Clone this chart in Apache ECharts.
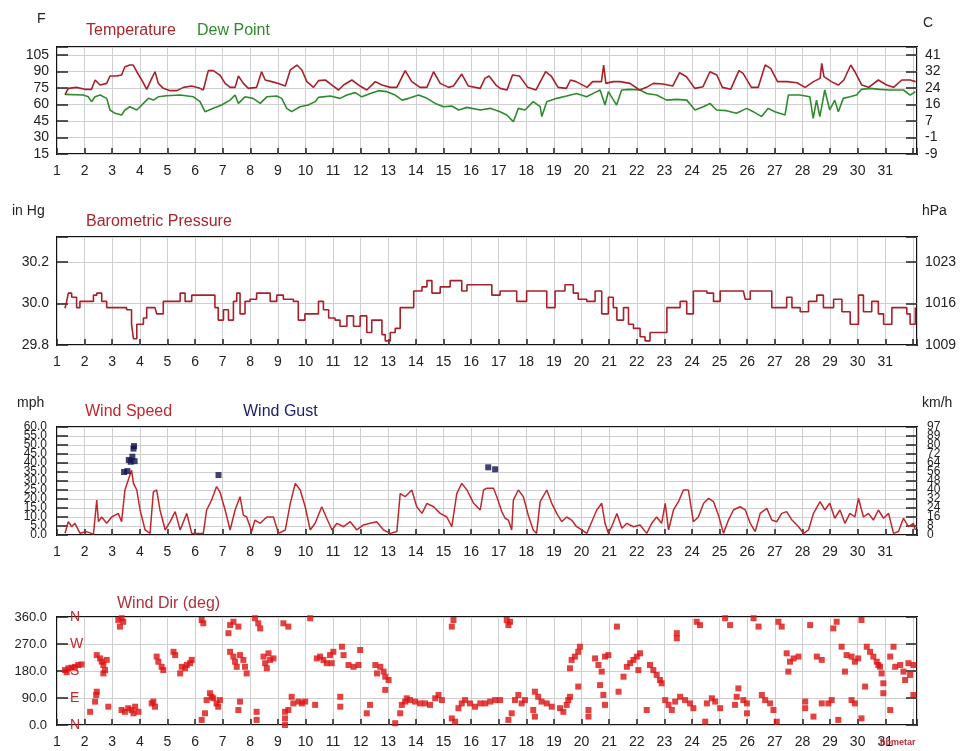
<!DOCTYPE html>
<html>
<head>
<meta charset="utf-8">
<script src="https://cdn.jsdelivr.net/npm/echarts@6/dist/echarts.min.js"></script>
<style>html,body{margin:0;padding:0;background:#fff;}#c{width:962px;height:751px;}</style>
</head>
<body>
<div id="c"></div>
<script>
// ---------- DATA (day-of-month, value) ----------
const dayLabels = [1,2,3,4,5,6,7,8,9,10,11,12,13,14,15,16,17,18,19,20,21,22,23,24,25,26,27,28,29,30,31];

const temperature = [
[1.29,69],[1.41,74.7],[1.71,75.6],[2.01,73.8],[2.25,73.8],[2.38,82.3],[2.56,77.7],[2.8,79.2],[2.92,85.9],[3.16,85.9],[3.34,86.8],[3.46,94.4],[3.64,95.9],[3.76,95.9],[3.89,89.8],[4.07,82.3],[4.25,73.8],[4.43,83.8],[4.55,89.8],[4.67,79.2],[4.85,74.7],[5.1,72.6],[5.34,72.6],[5.58,75.6],[5.88,76.8],[6.18,74.7],[6.3,73.2],[6.48,90.8],[6.66,90.8],[6.9,86.8],[7.09,79.2],[7.27,75.6],[7.45,75.6],[7.57,85.9],[7.75,79.2],[7.93,74.7],[8.23,75.6],[8.41,89.8],[8.54,82.3],[8.78,80.8],[9.02,79.2],[9.27,76.8],[9.45,91.4],[9.69,95.9],[9.87,91.4],[10.05,80.8],[10.29,75.6],[10.47,81.7],[10.72,82.3],[10.96,77.7],[11.2,73.2],[11.38,77.7],[11.68,82.3],[11.98,76.8],[12.22,73.2],[12.53,80.8],[12.77,77.7],[13.07,75.6],[13.31,75.6],[13.61,90.8],[13.85,80.8],[14.15,75.6],[14.4,75.6],[14.64,89.8],[14.88,79.2],[15.18,75.6],[15.36,76.8],[15.66,87.7],[15.9,76.8],[16.33,74.7],[16.5,83.8],[16.65,85.9],[16.9,77.7],[17.05,74.7],[17.3,73.2],[17.5,86.8],[17.75,85.9],[18.05,75.6],[18.35,73.2],[18.7,89.8],[18.9,85.9],[19.15,75.6],[19.45,74.7],[19.6,82.3],[19.8,80.8],[20.2,75.6],[20.4,80.8],[20.72,80.8],[20.8,95.9],[20.88,79.2],[21.15,80.8],[21.4,80.8],[21.75,79.2],[22.1,73.2],[22.35,75.6],[22.6,79.2],[22.95,78.6],[23.3,76.8],[23.55,88.9],[23.8,85.3],[24.1,74.7],[24.4,76.2],[24.65,89.8],[24.9,86.8],[25.1,75.6],[25.4,73.8],[25.7,90.8],[25.85,88.3],[26.15,75.6],[26.4,75.6],[26.65,95.9],[26.85,92.9],[27.1,80.8],[27.45,80.8],[27.8,79.8],[28.1,75.6],[28.4,80.8],[28.64,83.8],[28.7,97.4],[28.78,85.3],[29.05,80.8],[29.3,77.7],[29.5,82.3],[29.75,95.9],[29.9,89.8],[30.15,77.7],[30.4,75.6],[30.75,82.3],[31.05,77.7],[31.3,75.6],[31.6,82.3],[31.9,82.3],[32.1,80.8]
];

const dewPoint = [
[1.29,69.2],[1.95,68.6],[2.13,67],[2.25,62.6],[2.38,67],[2.56,68.6],[2.8,65.6],[2.92,55],[3.1,52],[3.34,50.5],[3.46,55],[3.64,58],[3.89,55],[4.13,61],[4.31,65.6],[4.49,64],[4.67,67],[4.97,68],[5.46,68.6],[5.94,67],[6.18,62.6],[6.36,53.5],[6.66,56.5],[6.96,59.5],[7.27,64],[7.45,68.6],[7.57,61],[7.81,67],[8.1,65.6],[8.36,61],[8.6,67],[8.96,67.7],[9.14,65.6],[9.32,56.5],[9.5,53.5],[9.8,58],[10.1,59.5],[10.35,62.6],[10.47,66.5],[10.9,67.7],[11.25,65.6],[11.5,68.6],[11.8,70.8],[12.04,67],[12.35,70],[12.65,72.6],[12.95,71.7],[13.25,68.6],[13.5,64],[13.74,65.6],[14.1,68.6],[14.4,65.6],[14.7,61],[15.0,58],[15.3,58.6],[15.55,55],[15.85,57.4],[16.33,55],[16.69,56.5],[17.05,53.5],[17.29,50.5],[17.53,44.4],[17.71,56.5],[17.95,55],[18.25,62.6],[18.5,58],[18.56,49],[18.74,62.6],[19.1,65.6],[19.46,67.7],[19.82,70],[20.18,67],[20.48,70.8],[20.67,73.2],[20.85,59.5],[20.97,71.7],[21.27,59.5],[21.45,73.2],[21.75,73.8],[22.12,73.2],[22.36,70],[22.72,68.6],[23.08,64],[23.45,64.7],[23.81,64],[24.11,55],[24.41,58],[24.65,61],[24.89,55],[25.25,54.4],[25.61,52],[25.98,56.5],[26.22,53.5],[26.52,49],[26.76,56.5],[27.0,53.5],[27.37,50.5],[27.49,68.6],[27.9,68.6],[28.27,67],[28.39,47.4],[28.51,64],[28.63,49],[28.81,73.2],[28.99,55],[29.17,64],[29.3,53.5],[29.48,65.6],[29.72,67],[29.96,68.6],[30.14,73.8],[30.44,74.7],[30.8,73.8],[31.17,73.2],[31.66,73.2],[31.9,68.6],[32.09,71.7]
];

const pressure = [
[1.29,29.977],[1.35,30.01],[1.41,30.05],[1.53,30.03],[1.71,29.98],[1.83,30.01],[2.13,30.01],[2.32,30.04],[2.44,30.05],[2.62,30.01],[2.8,29.98],[3.16,29.98],[3.52,29.97],[3.7,29.90],[3.77,29.83],[3.89,29.90],[4.13,29.93],[4.25,29.98],[4.55,29.98],[4.61,29.95],[4.85,30.01],[5.22,30.01],[5.46,30.05],[5.64,30.01],[5.88,30.04],[6.54,30.04],[6.72,29.98],[6.84,29.92],[7.03,29.97],[7.21,29.92],[7.39,30.01],[7.51,30.05],[7.63,29.95],[7.81,30.01],[7.99,30.02],[8.23,30.05],[8.6,30.05],[8.72,30.01],[8.96,30.04],[9.2,30.02],[9.56,30.01],[9.74,29.92],[9.98,29.95],[10.35,29.95],[10.47,30.01],[10.65,29.97],[10.84,29.93],[11.07,29.92],[11.25,29.89],[11.5,29.94],[11.74,29.89],[11.98,29.94],[12.22,29.86],[12.4,29.92],[12.58,29.92],[12.77,29.85],[12.89,29.82],[13.07,29.86],[13.25,29.88],[13.43,29.98],[13.67,29.98],[13.92,30.06],[14.22,30.08],[14.4,30.11],[14.58,30.05],[14.88,30.08],[15.24,30.11],[15.48,30.11],[15.66,30.06],[15.85,30.09],[16.57,30.09],[16.75,30.04],[17.05,30.06],[17.47,30.06],[17.65,30.01],[18.01,30.06],[18.5,30.06],[18.74,29.98],[19.04,30.06],[19.4,30.09],[19.7,30.05],[19.88,30.02],[20.19,30.01],[20.49,30.06],[20.73,29.95],[20.97,30.03],[21.15,29.98],[21.28,29.92],[21.52,29.98],[21.7,29.9],[21.88,29.88],[22.12,29.84],[22.3,29.82],[22.48,29.86],[22.97,29.86],[23.09,29.98],[23.57,30.01],[23.81,29.95],[24.05,30.06],[24.54,30.05],[24.78,30.01],[25.02,30.06],[25.86,30.06],[25.93,30.02],[26.11,30.06],[26.71,30.06],[26.89,29.98],[27.19,29.98],[27.43,30.03],[27.62,29.98],[27.92,29.96],[28.22,30.01],[28.52,30.04],[28.76,29.98],[29.13,30.02],[29.43,29.96],[29.73,29.9],[30.03,30.04],[30.21,29.96],[30.51,30.01],[30.75,29.95],[30.94,29.9],[31.24,29.98],[31.54,29.98],[31.78,29.95],[31.9,29.9],[32.09,29.98]
];

const windSpeed = [
[1.29,1],[1.41,7.4],[1.53,4.6],[1.65,6.5],[1.83,1],[2.07,1.9],[2.32,0.5],[2.44,19.4],[2.5,7.4],[2.62,10],[2.8,6.5],[2.98,10],[3.22,12],[3.34,7.4],[3.46,25],[3.58,30.6],[3.7,36],[3.77,28.7],[3.89,25],[4.01,13.9],[4.19,2.8],[4.37,0.9],[4.49,24],[4.61,25],[4.73,13.9],[4.92,2.8],[5.1,7.4],[5.28,13],[5.46,2.8],[5.7,12],[5.88,0.9],[6.3,0.9],[6.42,13.9],[6.6,19.4],[6.78,26.9],[6.9,24],[7.09,13.9],[7.27,2.8],[7.45,13.9],[7.63,21.3],[7.75,11],[7.87,10],[8.05,1.9],[8.17,8.3],[8.36,6.5],[8.6,10],[8.84,10],[9.02,0.9],[9.27,2.8],[9.45,17.6],[9.63,28.7],[9.81,25],[9.99,15.7],[10.17,2.8],[10.35,6.5],[10.59,15.7],[10.77,9.3],[10.96,2.8],[11.14,6.5],[11.38,4.6],[11.62,7.4],[11.86,2.8],[12.1,5.6],[12.34,6.5],[12.58,7.4],[12.83,2.8],[13.07,0.9],[13.31,1.9],[13.43,23],[13.61,21.3],[13.85,25],[14.03,15.7],[14.22,12],[14.4,17.6],[14.64,15.7],[14.88,12],[15.12,10],[15.3,4.6],[15.48,23],[15.66,28.7],[15.85,25],[16.09,17.6],[16.33,13.9],[16.45,25],[16.57,26],[16.81,26],[16.93,21.3],[17.11,13],[17.23,9.3],[17.35,8.3],[17.47,2.8],[17.53,19.4],[17.71,25],[17.89,21.3],[18.07,11],[18.25,2.8],[18.37,0.9],[18.5,18.5],[18.74,25],[18.92,17.6],[19.1,12],[19.28,7.4],[19.46,10],[19.64,8.3],[19.82,4.6],[20.01,2.8],[20.19,0.9],[20.37,7.4],[20.55,13.9],[20.73,17.6],[20.85,6.5],[20.97,0.9],[21.09,4.6],[21.28,12],[21.46,3.7],[21.64,6.5],[21.88,4.6],[22.12,5.6],[22.36,0.9],[22.54,6.5],[22.72,10],[22.9,6.5],[23.03,17.6],[23.15,2.8],[23.33,13.9],[23.51,18.5],[23.69,25],[23.87,25],[24.05,7.4],[24.23,10],[24.42,17.6],[24.6,20.4],[24.78,18.5],[24.96,11],[25.14,0.9],[25.32,8.3],[25.5,13.9],[25.74,15.7],[25.93,13.9],[26.11,6.5],[26.29,1.9],[26.47,12],[26.71,14.8],[26.89,8.3],[27.07,7.4],[27.25,12],[27.43,13],[27.62,8.3],[27.86,4.6],[28.04,0.9],[28.22,2.8],[28.4,12],[28.64,18.5],[28.81,13.9],[28.99,17.6],[29.17,9.3],[29.36,13.9],[29.54,6.5],[29.72,12],[29.9,10],[30.03,20.4],[30.21,10],[30.39,12],[30.57,8.3],[30.75,13.9],[30.94,9.3],[31.12,12],[31.3,0.9],[31.48,1.9],[31.66,9.3],[31.84,4.6],[32.02,6.5],[32.09,2.8]
];

const windGust = [
[3.43,35],[3.55,35.5],[3.6,41.7],[3.67,40.7],[3.73,43.5],[3.77,48],[3.79,49.4],[3.81,41],[6.85,33.3],[16.62,37.6],[16.87,36.5]
];

const windDir = [
[1.29,183],[1.35,176],[1.41,189],[1.53,191],[1.65,194],[1.77,200],[1.89,202],[2.2,44],[2.38,78],[2.42,100],[2.44,111],[2.44,233],[2.56,222],[2.62,211],[2.68,200],[2.68,172],[2.74,183],[2.8,217],[2.86,61],[3.22,350],[3.28,328],[3.34,356],[3.4,344],[3.34,50],[3.46,44],[3.58,56],[3.7,50],[3.77,39],[3.83,61],[3.95,44],[4.43,72],[4.49,78],[4.55,61],[4.61,228],[4.67,211],[4.79,194],[4.85,183],[5.22,244],[5.28,233],[5.46,172],[5.52,194],[5.64,189],[5.7,200],[5.82,206],[5.88,217],[6.24,350],[6.3,339],[6.24,17],[6.36,39],[6.42,83],[6.54,106],[6.6,94],[6.66,89],[6.78,72],[6.84,61],[6.9,83],[7.21,306],[7.27,333],[7.39,344],[7.57,328],[7.27,244],[7.39,228],[7.45,211],[7.51,194],[7.63,233],[7.75,217],[7.81,194],[7.87,172],[7.57,50],[7.63,78],[8.17,356],[8.29,339],[8.36,322],[8.23,17],[8.23,44],[8.48,228],[8.54,206],[8.6,189],[8.66,239],[8.72,217],[8.84,222],[9.2,339],[9.38,328],[9.26,44],[9.38,50],[9.26,22],[9.26,0],[9.5,94],[9.56,72],[9.75,78],[9.87,72],[9.99,78],[10.35,67],[10.17,356],[10.41,222],[10.53,228],[10.65,217],[10.77,206],[10.89,233],[10.95,206],[11.01,244],[11.26,94],[11.26,61],[11.32,261],[11.38,233],[11.56,200],[11.74,194],[11.92,200],[11.98,250],[12.22,39],[12.34,67],[12.53,200],[12.59,172],[12.71,194],[12.83,178],[12.89,161],[13.01,150],[12.89,117],[13.25,6],[13.43,39],[13.49,67],[13.61,78],[13.67,89],[13.79,83],[13.97,78],[14.15,72],[14.33,72],[14.51,67],[14.7,89],[14.82,100],[14.94,83],[15.3,328],[15.36,350],[15.3,22],[15.42,11],[15.54,56],[15.66,72],[15.78,83],[15.96,72],[16.14,61],[16.33,72],[16.51,72],[16.69,78],[16.87,83],[17.05,83],[17.29,350],[17.35,333],[17.41,344],[17.35,17],[17.47,39],[17.59,83],[17.71,100],[17.83,72],[17.95,83],[18.31,111],[18.25,50],[18.31,28],[18.43,94],[18.55,78],[18.74,72],[18.92,61],[19.22,56],[19.34,44],[19.46,67],[19.52,83],[19.58,94],[19.58,189],[19.64,217],[19.76,228],[19.88,244],[19.94,261],[19.88,128],[20.25,50],[20.25,28],[20.49,222],[20.61,200],[20.73,178],[20.85,228],[20.97,233],[20.67,133],[20.79,100],[20.85,67],[21.28,328],[21.34,111],[21.52,161],[21.64,194],[21.76,206],[21.88,217],[22.0,228],[22.12,239],[22.06,183],[22.36,50],[22.48,200],[22.6,183],[22.72,167],[22.84,150],[22.9,139],[23.03,83],[23.15,67],[23.27,50],[23.39,78],[23.57,94],[23.75,83],[23.93,72],[24.05,56],[23.45,306],[23.45,289],[24.17,344],[24.29,333],[24.48,11],[24.54,72],[24.72,89],[24.84,78],[25.02,56],[25.2,356],[25.38,333],[25.56,67],[25.62,94],[25.68,122],[25.86,83],[25.99,72],[25.99,39],[26.23,356],[26.41,328],[26.53,100],[26.65,83],[26.83,72],[26.95,50],[27.13,344],[27.25,328],[27.07,11],[27.43,239],[27.49,178],[27.55,211],[27.68,222],[27.86,228],[28.1,78],[28.1,56],[28.4,28],[28.28,333],[28.52,228],[28.7,217],[28.7,72],[28.94,72],[29.06,83],[29.12,322],[29.24,344],[29.3,17],[29.42,261],[29.54,178],[29.6,233],[29.78,228],[29.9,211],[30.02,222],[29.78,83],[29.9,72],[30.14,350],[30.14,22],[30.27,128],[30.33,261],[30.45,244],[30.57,228],[30.69,211],[30.75,200],[30.81,194],[30.87,172],[30.93,139],[30.93,106],[31.18,50],[31.3,261],[31.18,228],[31.36,194],[31.54,200],[31.66,178],[31.72,150],[31.84,206],[31.9,167],[32.02,200],[32.02,100]
];

// ---------- CHART ----------
const FF = "'Liberation Sans', Arial, sans-serif";
const gridDefs = [
  {left:57, right:45, top:47, height:107},
  {left:57, right:45, top:237, height:108},
  {left:57, right:45, top:427, height:108},
  {left:57, right:45, top:617, height:108}
];
const grids = gridDefs.map(g => Object.assign({show:true, borderColor:'#111', borderWidth:2, backgroundColor:'#fff'}, g));

const xAxes = gridDefs.map((g,i) => ({
  type:'value', gridIndex:i, min:1, max:32.15, interval:1,
  axisLine:{show:false},
  axisTick:{show:true, inside:true, length:6, lineStyle:{color:'#222', width:1.5}},
  axisLabel:{color:'#222', fontSize:14, fontFamily:FF, margin:10,
    formatter: v => (Number.isInteger(v) && dayLabels.indexOf(v) >= 0) ? String(v) : ''},
  splitLine:{show:true, lineStyle:{color:'#cfcfcf', width:1}}
}));

function isMult(v, step){ const r = v/step; return Math.abs(r - Math.round(r)) < 1e-6; }

function yAx(grid, pos, min, max, interval, fmt, labelOpts, extra){
  return Object.assign({
    type:'value', gridIndex:grid, position:pos, min:min, max:max, interval:interval,
    axisLine:{show:false},
    axisTick:{show:true, inside:true, length:11, lineStyle:{color:'#222', width:1.5}},
    axisLabel:Object.assign({color:'#222', fontSize:14, fontFamily:FF, margin:8, formatter:fmt,
      showMinLabel:true, showMaxLabel:true}, labelOpts || {}),
    splitLine:{show: pos==='left', lineStyle:{color:'#cfcfcf', width:1}}
  }, extra || {});
}

// wind labels are split on two overlaid axes (odd / even multiples of 5) so none get auto-hidden
const noTicks = {axisTick:{show:false}, splitLine:{show:false}};
const yAxes = [
  yAx(0,'left',15,112.3,15, v => isMult(v,15) ? String(Math.round(v)) : ''),
  yAx(0,'right',15,112.3,15, v => isMult(v,15) ? String(Math.round((v-32)*5/9)) : ''),
  yAx(1,'left',29.8,30.32,0.2, v => isMult(v,0.2) ? v.toFixed(1) : ''),
  yAx(1,'right',29.8,30.32,0.2, v => isMult(v,0.2) ? String(Math.round(v*33.8639)) : ''),
  yAx(2,'left',0,60,5, v => isMult(v,10) ? v.toFixed(1) : '', {fontSize:12, margin:10}),
  yAx(2,'right',0,60,5, v => isMult(v,10) ? String(Math.round(v*1.609344)) : '', {fontSize:12, margin:10}),
  yAx(3,'left',0,360,90, v => v.toFixed(1), {fontSize:13, margin:10}),
  yAx(3,'right',0,360,90, v => '', {show:false}),
  {type:'value', gridIndex:3, position:'left', min:0, max:360, interval:90,
   axisLine:{show:false}, axisTick:{show:false}, splitLine:{show:false},
   axisLabel:{inside:true, margin:13, color:'#c0282d', fontSize:14, fontFamily:FF,
     showMinLabel:true, showMaxLabel:true,
     formatter: v => ({0:'N',90:'E',180:'S',270:'W',360:'N'})[Math.round(v)] || ''}},
  yAx(2,'left',0,60,5, v => isMult(v,10) ? '' : v.toFixed(1), {fontSize:12, margin:10}, noTicks),
  yAx(2,'right',0,60,5, v => isMult(v,10) ? '' : String(Math.round(v*1.609344)), {fontSize:12, margin:10}, noTicks)
];

const titles = [
  {text:'F', left:37, top:12, size:14},
  {text:'C', left:923, top:16, size:14},
  {text:'Temperature', left:86, top:23, color:'#a8262c'},
  {text:'Dew Point', left:197, top:23, color:'#2f8a2f'},
  {text:'in Hg', left:12, top:204, size:14},
  {text:'hPa', left:922, top:204, size:14},
  {text:'Barometric Pressure', left:86, top:214, color:'#a8262c'},
  {text:'mph', left:17, top:396, size:14},
  {text:'km/h', left:922, top:396, size:14},
  {text:'Wind Speed', left:85, top:404, color:'#c0282d'},
  {text:'Wind Gust', left:243, top:404, color:'#1c1c6a'},
  {text:'Wind Dir (deg)', left:117, top:596, color:'#b0303a'}
].map(t => ({text:t.text, left:t.left, top:t.top, padding:0,
  textStyle:{fontSize:t.size || 16, fontWeight:'normal', fontFamily:FF, color:t.color || '#222'}}));
titles.push({text:'hbmetar', left:880, top:738, padding:0,
  textStyle:{fontSize:9, fontWeight:'bold', fontFamily:FF, color:'#b0303a'}});

const chart = echarts.init(document.getElementById('c'), null, {renderer:'canvas'});
chart.setOption({
  animation:false,
  backgroundColor:'#ffffff',
  title: titles,
  grid: grids,
  xAxis: xAxes,
  yAxis: yAxes,
  series: [
    {type:'line', xAxisIndex:0, yAxisIndex:0, data:dewPoint, showSymbol:false, symbol:'none',
     lineStyle:{color:'#2e8b2e', width:1.6}, z:3},
    {type:'line', xAxisIndex:0, yAxisIndex:0, data:temperature, showSymbol:false, symbol:'none',
     lineStyle:{color:'#a8202a', width:1.6}, z:4},
    {type:'line', xAxisIndex:1, yAxisIndex:2, data:pressure, step:'end', showSymbol:false, symbol:'none',
     lineStyle:{color:'#a8202a', width:1.6}},
    {type:'line', xAxisIndex:2, yAxisIndex:4, data:windSpeed, showSymbol:false, symbol:'none',
     lineStyle:{color:'#c0282d', width:1.5}},
    {type:'scatter', xAxisIndex:2, yAxisIndex:4, data:windGust, symbol:'rect', symbolSize:6,
     itemStyle:{color:'#101050'}, z:5},
    {type:'scatter', xAxisIndex:3, yAxisIndex:6, data:windDir, symbol:'rect', symbolSize:6,
     itemStyle:{color:'#dd1111'}}
  ]
});
</script>
</body>
</html>
